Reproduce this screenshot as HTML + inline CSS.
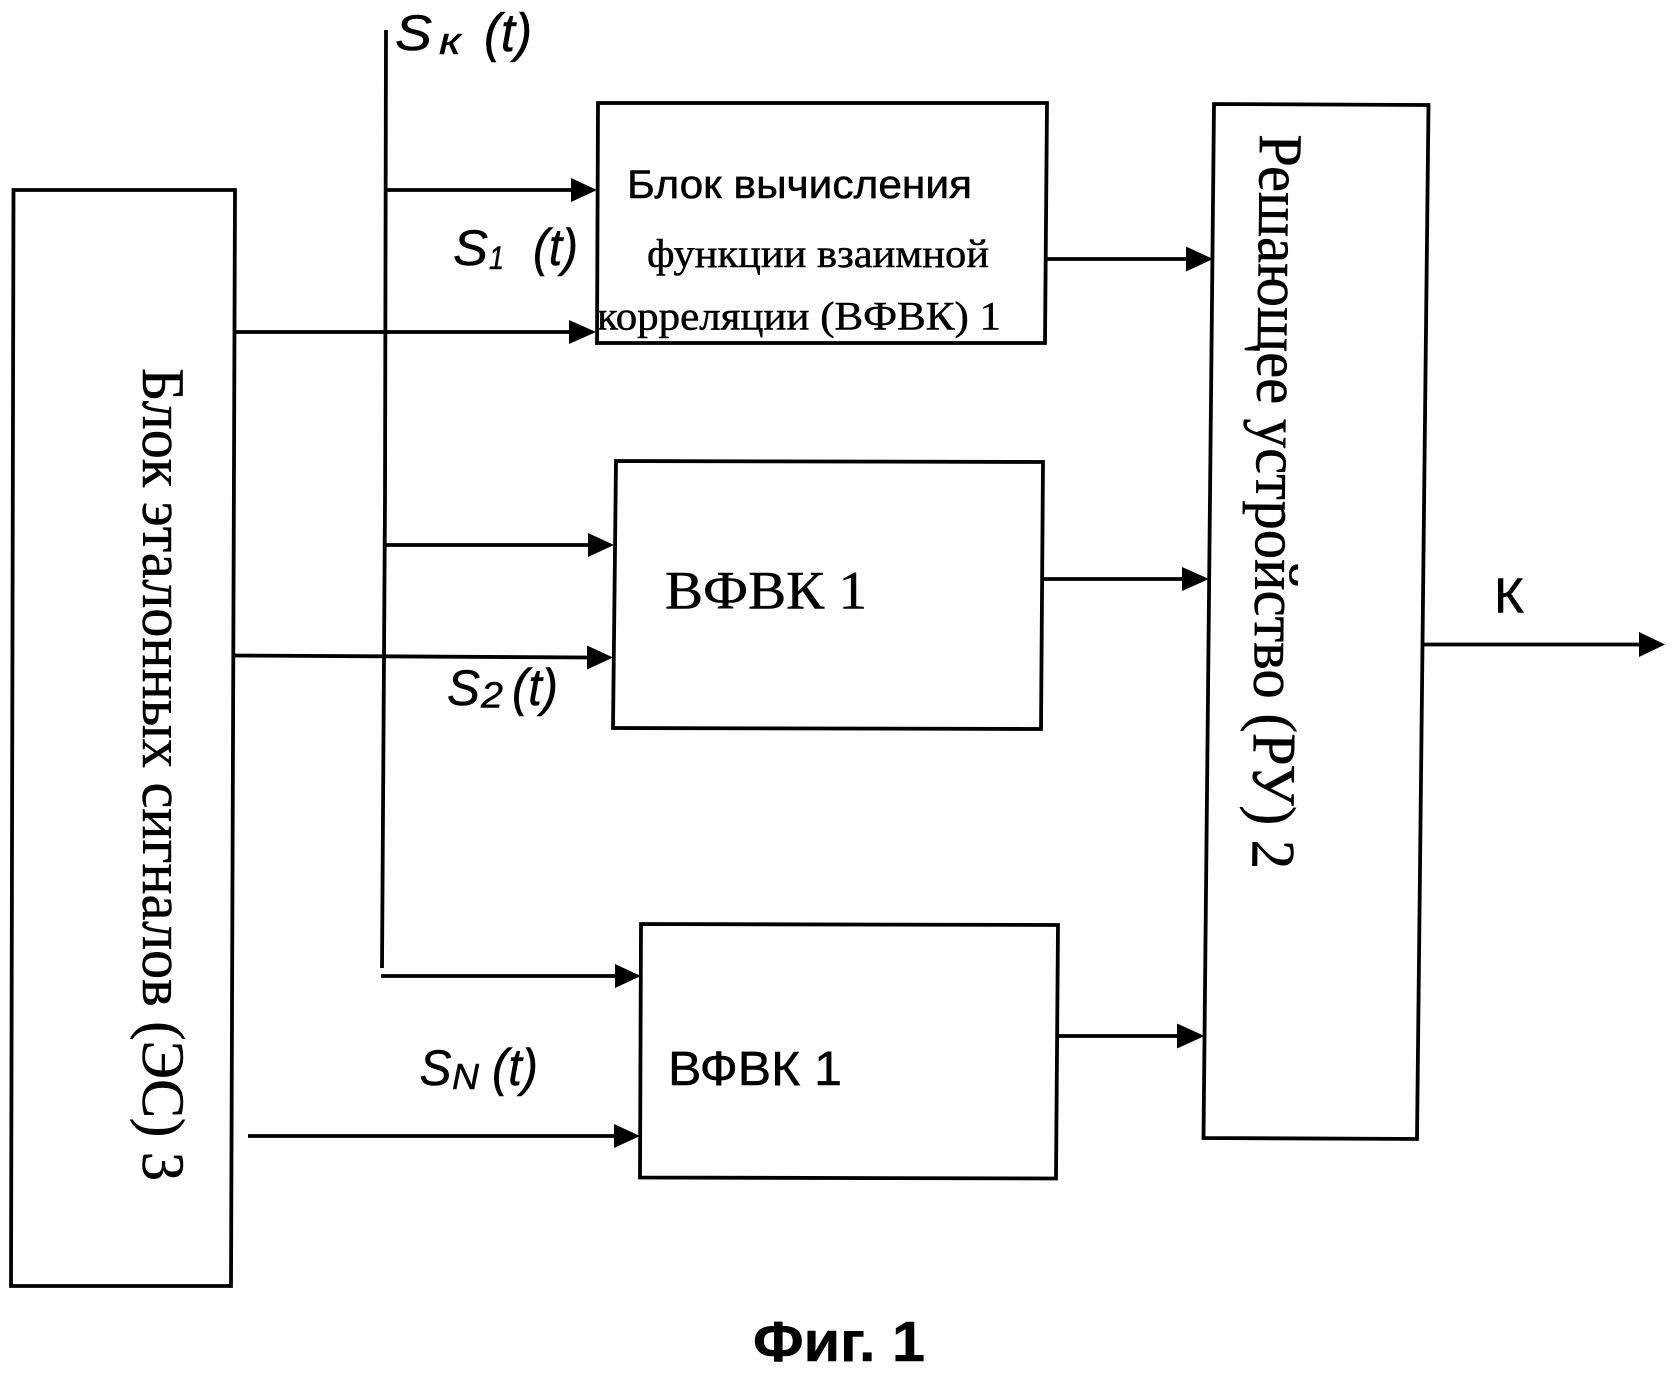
<!DOCTYPE html>
<html lang="ru">
<head>
<meta charset="utf-8">
<title>Фиг. 1</title>
<style>
html,body{margin:0;padding:0;background:#fff;width:1675px;height:1374px;overflow:hidden}
svg{display:block}
.ln{fill:none;stroke:#000;stroke-width:3.8}
.ar{fill:#000;stroke:none}
text{fill:#000;stroke:#000;stroke-width:.5}
.se{font-family:"Liberation Serif",serif}
.sa{font-family:"Liberation Sans",sans-serif}
.it{font-family:"Liberation Sans",sans-serif;font-style:italic}
</style>
</head>
<body>
<svg width="1675" height="1374" viewBox="0 0 1675 1374" xmlns="http://www.w3.org/2000/svg">
<rect width="1675" height="1374" fill="#fff"/>

<!-- blocks -->
<polygon class="ln" points="13.5,190 235,190 231,1286 11,1286"/>
<polygon class="ln" points="598,103 1047,103 1045,343 597,343"/>
<polygon class="ln" points="616,461 1043,462 1041,729 613,728"/>
<polygon class="ln" points="641,924 1058,925 1056,1178.5 640,1177.5"/>
<polygon class="ln" points="1214,104 1428.5,105 1417,1139 1203.5,1138"/>

<!-- main vertical input -->
<polyline class="ln" points="386,30 385,500 382,968"/>

<!-- connectors -->
<line class="ln" x1="387" y1="190" x2="574" y2="190"/>
<polygon class="ar" points="571,178 597,190 571,202"/>
<line class="ln" x1="236" y1="332" x2="572" y2="332"/>
<polygon class="ar" points="569,320 596,332 569,344"/>
<line class="ln" x1="385" y1="545" x2="591" y2="545"/>
<polygon class="ar" points="588,533 614,545 588,557"/>
<line class="ln" x1="233" y1="655.5" x2="590" y2="657.5"/>
<polygon class="ar" points="587,645.5 613,657.5 587,669.5"/>
<line class="ln" x1="381" y1="976" x2="618" y2="976"/>
<polygon class="ar" points="615,964 641,976 615,988"/>
<line class="ln" x1="248" y1="1136" x2="617" y2="1136"/>
<polygon class="ar" points="614,1124 640,1136 614,1148"/>
<line class="ln" x1="1047" y1="259" x2="1189" y2="259"/>
<polygon class="ar" points="1186,246.5 1213,259 1186,271.5"/>
<line class="ln" x1="1043" y1="579" x2="1185" y2="579"/>
<polygon class="ar" points="1182,567 1209,579 1182,591"/>
<line class="ln" x1="1057" y1="1036" x2="1180" y2="1036"/>
<polygon class="ar" points="1177,1023.5 1204.5,1036 1177,1048.5"/>
<line class="ln" x1="1423" y1="644.5" x2="1642" y2="644.5"/>
<polygon class="ar" points="1639,632 1665,644.5 1639,657"/>

<!-- block text -->
<text class="sa" x="627" y="198" font-size="40" textLength="345" lengthAdjust="spacingAndGlyphs">Блок вычисления</text>
<text class="se" x="647" y="267" font-size="40" textLength="342" lengthAdjust="spacingAndGlyphs">функции взаимной</text>
<text class="se" x="597" y="329.5" font-size="40" textLength="404" lengthAdjust="spacingAndGlyphs">корреляции (ВФВК) 1</text>
<text class="se" x="665" y="608.5" font-size="54" textLength="202" lengthAdjust="spacingAndGlyphs">ВФВК 1</text>
<text class="sa" x="668" y="1085" font-size="48" textLength="174" lengthAdjust="spacingAndGlyphs">ВФВК 1</text>

<text class="se" transform="translate(143,368) rotate(90)" font-size="60" textLength="813" lengthAdjust="spacingAndGlyphs">Блок эталонных сигналов (ЭС) 3</text>
<text class="se" transform="translate(1260,134) rotate(90.6)" font-size="62" textLength="735" lengthAdjust="spacingAndGlyphs">Решающее устройство (РУ) 2</text>

<!-- signal labels -->
<text class="it" x="395" y="50" font-size="50" textLength="37" lengthAdjust="spacingAndGlyphs">S</text>
<text class="it" x="439" y="54" font-size="38" textLength="22" lengthAdjust="spacingAndGlyphs">к</text>
<text class="it" x="484" y="51" font-size="54" textLength="48" lengthAdjust="spacingAndGlyphs">(t)</text>

<text class="it" x="453" y="265" font-size="50" textLength="35" lengthAdjust="spacingAndGlyphs">S</text>
<text class="it" x="489" y="269" font-size="32" textLength="15" lengthAdjust="spacingAndGlyphs">1</text>
<text class="it" x="533" y="265" font-size="52" textLength="45" lengthAdjust="spacingAndGlyphs">(t)</text>

<text class="it" x="447" y="705" font-size="50" textLength="33" lengthAdjust="spacingAndGlyphs">S</text>
<text class="it" x="481" y="707.5" font-size="36" textLength="22" lengthAdjust="spacingAndGlyphs">2</text>
<text class="it" x="512" y="705" font-size="52" textLength="46" lengthAdjust="spacingAndGlyphs">(t)</text>

<text class="it" x="419.5" y="1085" font-size="50" textLength="32" lengthAdjust="spacingAndGlyphs">S</text>
<text class="it" x="452" y="1089" font-size="36" textLength="27" lengthAdjust="spacingAndGlyphs">N</text>
<text class="it" x="492" y="1085" font-size="52" textLength="46" lengthAdjust="spacingAndGlyphs">(t)</text>

<text class="sa" x="1494" y="612.5" font-size="49" textLength="30" lengthAdjust="spacingAndGlyphs">К</text>

<text class="sa" x="753" y="1361" font-size="57" font-weight="700" textLength="172" lengthAdjust="spacingAndGlyphs">Фиг. 1</text>
</svg>
</body>
</html>
